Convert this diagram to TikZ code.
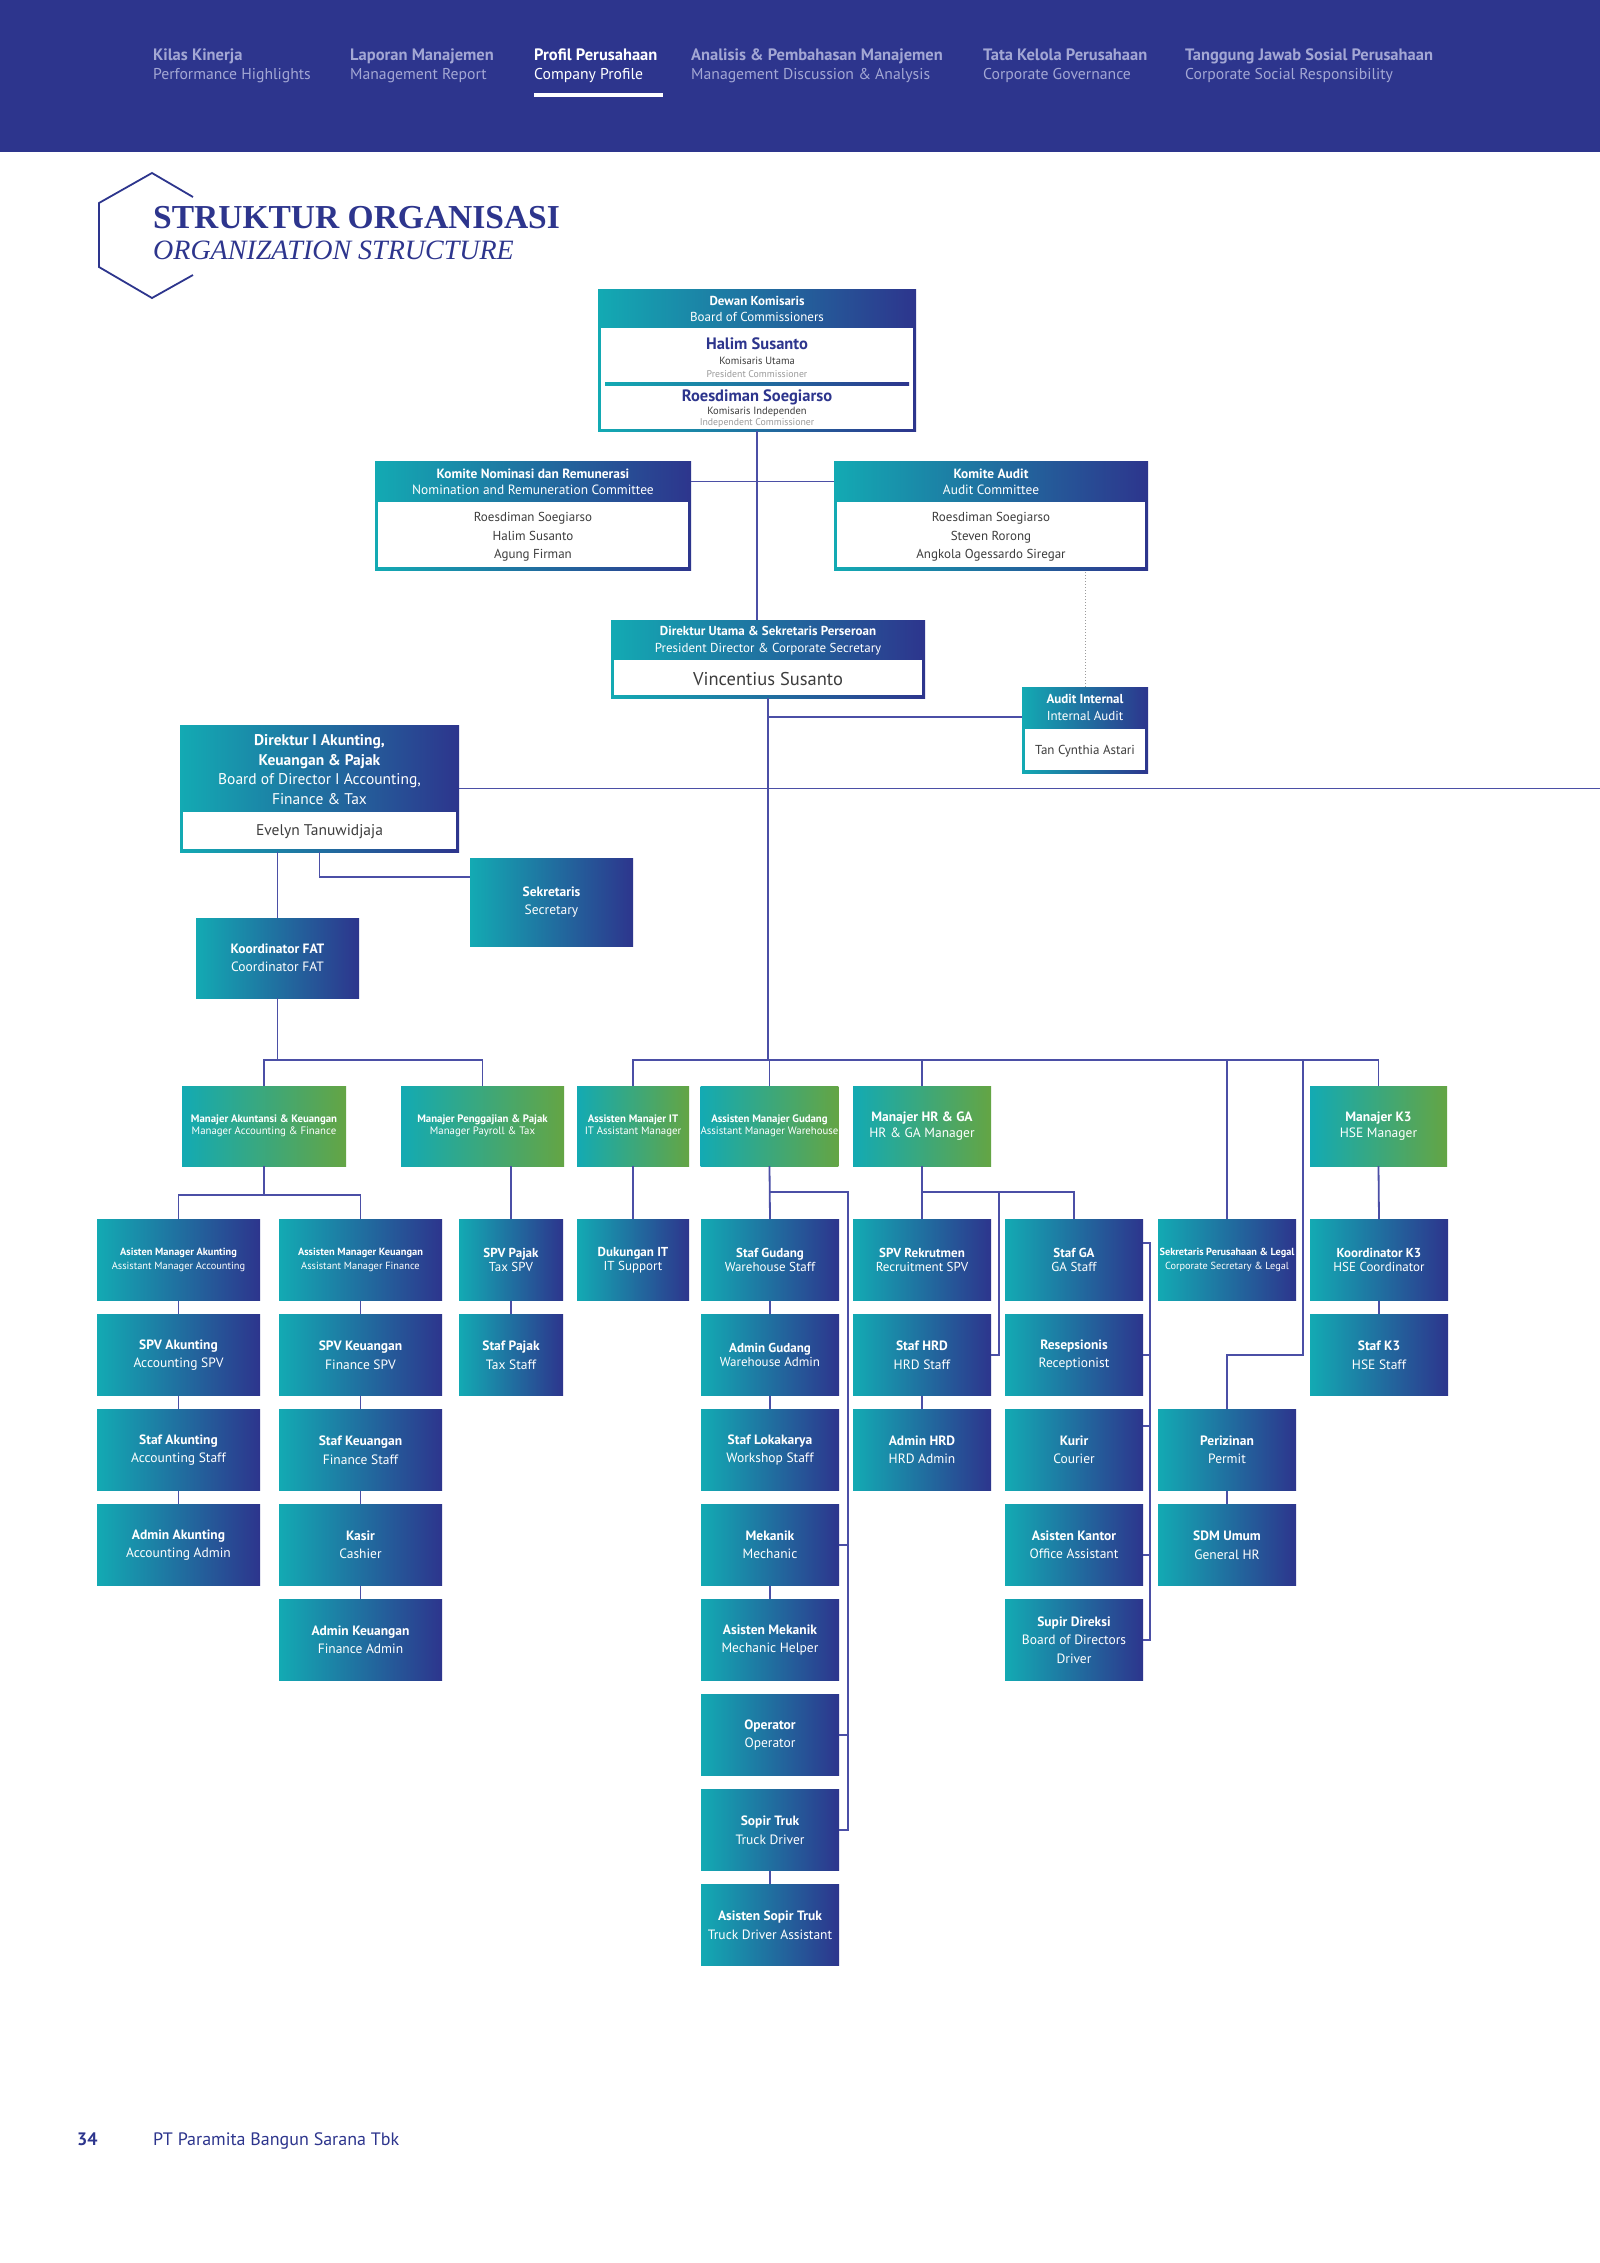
\documentclass[tikz,border=0pt]{standalone}
\usepackage{fontspec}
\setmainfont{PT Sans}
\newfontfamily\titlefont{Liberation Serif}
\definecolor{cnavy}{HTML}{2D358D}
\definecolor{cteal}{HTML}{13AAB3}
\definecolor{cgreen}{HTML}{64A544}
\definecolor{cline}{HTML}{4B4FA6}
\definecolor{clav}{HTML}{A3A7D4}
\definecolor{cgray}{HTML}{3D3D3D}
\definecolor{clgray}{HTML}{9A9A9A}
\newcommand{\tl}[2]{\textbf{#1}\\#2}
\begin{document}
\begin{tikzpicture}[x=1pt,y=-1pt,
  gbox/.style={rectangle, inner sep=0pt, left color=cteal, right color=cnavy, text=white, align=center},
  mbox/.style={rectangle, inner sep=0pt, left color=cteal, right color=cgreen, text=white, align=center, minimum height=80},
  rb/.style={gbox, minimum height=81},
  whitebody/.style={rectangle, fill=white, inner sep=0pt},
  txt/.style={inner sep=0pt, align=center},
  wA/.style={minimum width=163},
  wC/.style={minimum width=104},
  wD/.style={minimum width=112},
  wE/.style={minimum width=138},
  big/.style={font=\fontsize{13.5}{18.5}\selectfont},
  tight/.style={font=\fontsize{13}{14.5}\selectfont},
  small/.style={font=\fontsize{10.4}{13.5}\selectfont},
  msmall/.style={font=\fontsize{10.8}{12.5}\selectfont},
  mbig/.style={font=\fontsize{13.5}{16}\selectfont},
  conn/.style={draw=cline, line width=1.8pt},
  tabb/.style={anchor=base west, inner sep=0pt, font=\fontsize{16.5}{18}\selectfont\bfseries},
  tabr/.style={anchor=base west, inner sep=0pt, font=\fontsize{15.7}{18}\selectfont}
]
\useasboundingbox (0,0) rectangle (1600,2263);
\fill[white] (0,0) rectangle (1600,2263);

% ---------- header band ----------
\fill[cnavy] (0,0) rectangle (1600,152);
\node[tabb, text=clav] (t1a) at (153,60) {Kilas Kinerja};
\node[tabr, text=clav] (t1b) at (153,79) {Performance Highlights};
\node[tabb, text=clav] (t2a) at (350,60) {Laporan Manajemen};
\node[tabr, text=clav] (t2b) at (350,79) {Management Report};
\node[tabb, text=white] (t3a) at (534,60) {Profil Perusahaan};
\node[tabr, text=white] (t3b) at (534,79) {Company Profile};
\node[tabb, text=clav] (t4a) at (691,60) {Analisis \& Pembahasan Manajemen};
\node[tabr, text=clav] (t4b) at (691,79) {Management Discussion \& Analysis};
\node[tabb, text=clav] (t5a) at (983,60) {Tata Kelola Perusahaan};
\node[tabr, text=clav] (t5b) at (983,79) {Corporate Governance};
\node[tabb, text=clav] (t6a) at (1185,60) {Tanggung Jawab Sosial Perusahaan};
\node[tabr, text=clav] (t6b) at (1185,79) {Corporate Social Responsibility};
\fill[white] (534,93) rectangle (663,97);

% ---------- title ----------
\draw[cnavy, line width=1.8pt] (193,197) -- (152,173) -- (99,203) -- (99,267) -- (152,298) -- (193,275);
\node[anchor=base west, inner sep=0pt, text=cnavy, font=\titlefont\fontsize{33.5}{36}\selectfont\bfseries] (title1) at (153,228) {STRUKTUR ORGANISASI};
\node[anchor=base west, inner sep=0pt, text=cnavy, font=\titlefont\fontsize{28}{30}\selectfont\itshape] (title2) at (153,259) {ORGANIZATION STRUCTURE};

% ---------- Dewan Komisaris ----------
\node[gbox, minimum width=318, minimum height=142] (dewan) at (757,360) {};
\node[whitebody, minimum width=312, minimum height=101] (dewanb) at (757,378.5) {};
\node[txt, text=white, font=\fontsize{13}{16}\selectfont] (dewanh) at (757,309) {\tl{Dewan Komisaris}{Board of Commissioners}};
\node[anchor=base, inner sep=0pt, text=cnavy, font=\fontsize{16.5}{17}\selectfont\bfseries] (halim) at (757,349) {Halim Susanto};
\node[anchor=base, inner sep=0pt, text=cgray, font=\fontsize{10.5}{11}\selectfont] (halimr) at (757,364) {Komisaris Utama};
\node[anchor=base, inner sep=0pt, text=clgray, font=\fontsize{9.8}{11}\selectfont] (halime) at (757,377) {President Commissioner};
\node[rectangle, inner sep=0pt, left color=cteal, right color=cnavy, minimum width=304, minimum height=3] (dsep) at (757,383.5) {};
\node[anchor=base, inner sep=0pt, text=cnavy, font=\fontsize{16.5}{17}\selectfont\bfseries] (roes) at (757,401) {Roesdiman Soegiarso};
\node[anchor=base, inner sep=0pt, text=cgray, font=\fontsize{10.5}{11}\selectfont] (roesr) at (757,414) {Komisaris Independen};
\node[anchor=base, inner sep=0pt, text=clgray, font=\fontsize{9.8}{11}\selectfont] (roese) at (757,425.5) {Independent Commissioner};

% ---------- Committees ----------
\node[gbox, minimum width=316, minimum height=109] (kn) at (533,515.5) {};
\node[whitebody, minimum width=310, minimum height=65] (knb) at (533,534.5) {};
\node[txt, text=white, font=\fontsize{13.4}{16}\selectfont, minimum width=316, minimum height=41] (knh) at (533,481.5) {\tl{Komite Nominasi dan Remunerasi}{Nomination and Remuneration Committee}};
\node[txt, text=cgray, font=\fontsize{13}{18.5}\selectfont] (knn) at (533,537) {Roesdiman Soegiarso\\Halim Susanto\\Agung Firman};

\node[gbox, minimum width=314, minimum height=109] (ka) at (991,515.5) {};
\node[whitebody, minimum width=308, minimum height=65] (kab) at (991,534.5) {};
\node[txt, text=white, font=\fontsize{13.4}{16}\selectfont, minimum width=314, minimum height=41] (kah) at (991,481.5) {\tl{Komite Audit}{Audit Committee}};
\node[txt, text=cgray, font=\fontsize{13}{18.5}\selectfont] (kan) at (991,537) {Roesdiman Soegiarso\\Steven Rorong\\Angkola Ogessardo Siregar};

% ---------- Direktur Utama ----------
\node[gbox, minimum width=314, minimum height=78] (dirut) at (768,659) {};
\node[whitebody, minimum width=308, minimum height=35] (dirutb) at (768,677.5) {};
\node[txt, text=white, font=\fontsize{13}{17}\selectfont] (diruth) at (768,640.5) {\tl{Direktur Utama \& Sekretaris Perseroan}{President Director \& Corporate Secretary}};
\node[txt, text=cgray, font=\fontsize{18.5}{20}\selectfont] (dirutn) at (768,679) {Vincentius Susanto};

% ---------- Audit Internal ----------
\node[gbox, minimum width=126, minimum height=86] (ai) at (1085,730) {};
\node[whitebody, minimum width=120, minimum height=41] (aib) at (1085,749.5) {};
\node[txt, text=white, font=\fontsize{13}{17}\selectfont] (aih) at (1085,707.5) {\tl{Audit Internal}{Internal Audit}};
\node[txt, text=cgray, font=\fontsize{13}{14}\selectfont] (ain) at (1085,751) {Tan Cynthia Astari};

% ---------- Direktur I ----------
\node[gbox, minimum width=279, minimum height=127] (dir1) at (319.5,788.5) {};
\node[whitebody, minimum width=273, minimum height=37] (dir1b) at (319.5,830.5) {};
\node[txt, text=white, font=\fontsize{15.5}{19.6}\selectfont] (dir1h) at (319.5,769.5) {\textbf{Direktur I Akunting,}\\\textbf{Keuangan \& Pajak}\\Board of Director I Accounting,\\Finance \& Tax};
\node[txt, text=cgray, font=\fontsize{15.5}{17}\selectfont] (dir1n) at (319.5,832) {Evelyn Tanuwidjaja};

\node[gbox, big, minimum width=163, minimum height=88] (sek) at (551.5,902) {\tl{Sekretaris}{Secretary}};
\node[gbox, big, minimum width=163, minimum height=80] (fat) at (277.5,958) {\tl{Koordinator FAT}{Coordinator FAT}};

% ---------- Managers ----------
\node[mbox, msmall, minimum width=164] (m1) at (264,1126) {\tl{Manajer Akuntansi \& Keuangan}{Manager Accounting \& Finance}};
\node[mbox, msmall, minimum width=163] (m2) at (482.5,1126) {\tl{Manajer Penggajian \& Pajak}{Manager Payroll \& Tax}};
\node[mbox, msmall, minimum width=112] (m3) at (633,1126) {\tl{Assisten Manajer IT}{IT Assistant Manager}};
\node[mbox, msmall, minimum width=137] (m4) at (769.5,1126) {\tl{Assisten Manajer Gudang}{Assistant Manager Warehouse}};
\node[mbox, mbig, minimum width=138] (m5) at (922,1126) {\tl{Manajer HR \& GA}{HR \& GA Manager}};
\node[mbox, mbig, minimum width=137] (m6) at (1378.5,1126) {\tl{Manajer K3}{HSE Manager}};

% ---------- Staff rows ----------
\node[rb, wA, small] (a1) at (178.5,1260) {\tl{Asisten Manager Akunting}{Assistant Manager Accounting}};
\node[rb, wA, big] (a2) at (178.5,1355) {\tl{SPV Akunting}{Accounting SPV}};
\node[rb, wA, big] (a3) at (178.5,1450) {\tl{Staf Akunting}{Accounting Staff}};
\node[rb, wA, big] (a4) at (178.5,1545) {\tl{Admin Akunting}{Accounting Admin}};

\node[rb, wA, small] (b1) at (360.5,1260) {\tl{Assisten Manager Keuangan}{Assistant Manager Finance}};
\node[rb, wA, big] (b2) at (360.5,1355) {\tl{SPV Keuangan}{Finance SPV}};
\node[rb, wA, big] (b3) at (360.5,1450) {\tl{Staf Keuangan}{Finance Staff}};
\node[rb, wA, big] (b4) at (360.5,1545) {\tl{Kasir}{Cashier}};
\node[rb, wA, big] (b5) at (360.5,1640) {\tl{Admin Keuangan}{Finance Admin}};

\node[rb, wC, tight] (c1) at (511,1260) {\tl{SPV Pajak}{Tax SPV}};
\node[rb, wC, big] (c2) at (511,1355) {\tl{Staf Pajak}{Tax Staff}};

\node[rb, wD, tight] (d1) at (633,1260) {\tl{Dukungan IT}{IT Support}};

\node[rb, wE, tight] (g1) at (770,1260) {\tl{Staf Gudang}{Warehouse Staff}};
\node[rb, wE, tight] (g2) at (770,1355) {\tl{Admin Gudang}{Warehouse Admin}};
\node[rb, wE, big] (g3) at (770,1450) {\tl{Staf Lokakarya}{Workshop Staff}};
\node[rb, wE, big] (g4) at (770,1545) {\tl{Mekanik}{Mechanic}};
\node[rb, wE, big] (g5) at (770,1640) {\tl{Asisten Mekanik}{Mechanic Helper}};
\node[rb, wE, big] (g6) at (770,1735) {\tl{Operator}{Operator}};
\node[rb, wE, big] (g7) at (770,1830) {\tl{Sopir Truk}{Truck Driver}};
\node[rb, wE, big] (g8) at (770,1925) {\tl{Asisten Sopir Truk}{Truck Driver Assistant}};

\node[rb, wE, tight] (h1) at (922,1260) {\tl{SPV Rekrutmen}{Recruitment SPV}};
\node[rb, wE, big] (h2) at (922,1355) {\tl{Staf HRD}{HRD Staff}};
\node[rb, wE, big] (h3) at (922,1450) {\tl{Admin HRD}{HRD Admin}};

\node[rb, wE, tight] (s1) at (1074,1260) {\tl{Staf GA}{GA Staff}};
\node[rb, wE, big] (s2) at (1074,1355) {\tl{Resepsionis}{Receptionist}};
\node[rb, wE, big] (s3) at (1074,1450) {\tl{Kurir}{Courier}};
\node[rb, wE, big] (s4) at (1074,1545) {\tl{Asisten Kantor}{Office Assistant}};
\node[rb, wE, big] (s5) at (1074,1640) {\textbf{Supir Direksi}\\Board of Directors\\Driver};

\node[rb, wE, font=\fontsize{10.3}{13.5}\selectfont] (p1) at (1227,1260) {\tl{Sekretaris Perusahaan \& Legal}{Corporate Secretary \& Legal}};
\node[rb, wE, big] (p2) at (1227,1450) {\tl{Perizinan}{Permit}};
\node[rb, wE, big] (p3) at (1227,1545) {\tl{SDM Umum}{General HR}};

\node[rb, wE, tight] (k1) at (1379,1260) {\tl{Koordinator K3}{HSE Coordinator}};
\node[rb, wE, big] (k2) at (1379,1355) {\tl{Staf K3}{HSE Staff}};

% ---------- footer ----------
\node[anchor=base west, inner sep=0pt, text=cnavy, font=\fontsize{18}{20}\selectfont\bfseries] (pageno) at (77,2145) {34};
\node[anchor=base west, inner sep=0pt, text=cnavy, font=\fontsize{18}{20}\selectfont] (company) at (153,2145) {PT Paramita Bangun Sarana Tbk};

% ---------- connectors ----------
\coordinate (busA) at (0,1060);
\coordinate (busB) at (0,1060);
\coordinate (busC) at (0,1195);
\coordinate (gx) at (848,1192);
\coordinate (hx) at (999,1192);
\coordinate (sx) at (1150,0);
\coordinate (px) at (1303,1355);
\coordinate (rightend) at (1600,788.5);

\draw[conn] (dewan.south) -- (dewan.south |- dirut.north);
\draw[conn] (knh.east) -- (kah.west);
\draw[conn] (dirut.south) -- (dirut.south |- busB);
\draw[conn] ([yshift=13pt]ai.west) -- ([yshift=13pt]ai.west -| dirut.south);
\draw[draw=clgray, line width=1pt, dotted] (ai.north) -- (ai.north |- ka.south);
\draw[conn] (dir1.east) -- (rightend);
\draw[conn] (fat.north |- dir1.south) -- (fat.north);
\draw[conn] (dir1.south) |- ([yshift=25pt]sek.west);
\draw[conn] (fat.south) -- (fat.south |- busA);
\draw[conn] (m1.north) -- (m1.north |- busA) -- (m2.north |- busA) -- (m2.north);

\draw[conn] (m3.north) -- (m3.north |- busB) -- (m6.north |- busB) -- (m6.north);
\draw[conn] (m4.north |- busB) -- (m4.north);
\draw[conn] (m5.north |- busB) -- (m5.north);
\draw[conn] (p1.north |- busB) -- (p1.north);
\draw[conn] (px |- busB) -- (px) -| (p2.north);

\draw[conn] (m1.south) -- (m1.south |- busC);
\draw[conn] (a1.north) -- (a1.north |- busC) -- (b1.north |- busC) -- (b1.north);
\draw[conn] (a1.south) -- (a2.north);
\draw[conn] (a2.south) -- (a3.north);
\draw[conn] (a3.south) -- (a4.north);
\draw[conn] (b1.south) -- (b2.north);
\draw[conn] (b2.south) -- (b3.north);
\draw[conn] (b3.south) -- (b4.north);
\draw[conn] (b4.south) -- (b5.north);
\draw[conn] (c1.north |- m2.south) -- (c1.north);
\draw[conn] (c1.south) -- (c2.north);
\draw[conn] (m3.south) -- (d1.north);

\draw[conn] (m4.south) -- (g1.north);
\draw[conn] (m4.south |- gx) -- (gx) -- (gx |- g7.east) -- (g7.east);
\draw[conn] (g4.east) -- (g4.east -| gx);
\draw[conn] (g6.east) -- (g6.east -| gx);
\draw[conn] (g1.south) -- (g2.north);
\draw[conn] (g2.south) -- (g3.north);
\draw[conn] (g4.south) -- (g5.north);
\draw[conn] (g7.south) -- (g8.north);

\draw[conn] (m5.south) -- (h1.north);
\draw[conn] (m5.south |- hx) -- (s1.north |- hx) -- (s1.north);
\draw[conn] (hx) -- (hx |- h2.east) -- (h2.east);
\draw[conn] (h2.south) -- (h3.north);

\draw[conn] ([yshift=17pt]s1.east) -- ([yshift=17pt]s1.east -| sx) -- (sx |- s5.east) -- (s5.east);
\draw[conn] (s2.east) -- (s2.east -| sx);
\draw[conn] ([yshift=24pt]s3.east) -- ([yshift=24pt]s3.east -| sx);
\draw[conn] ([yshift=-10pt]s4.east) -- ([yshift=-10pt]s4.east -| sx);

\draw[conn] (p2.south) -- (p3.north);
\draw[conn] (m6.south) -- (k1.north);
\draw[conn] (k1.south) -- (k2.north);
\end{tikzpicture}
\end{document}
